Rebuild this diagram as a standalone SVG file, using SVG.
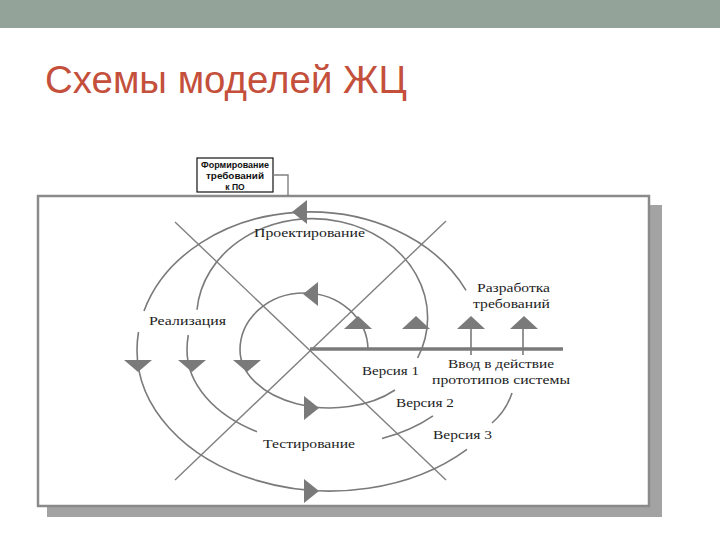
<svg xmlns="http://www.w3.org/2000/svg" width="720" height="540" viewBox="0 0 720 540">
<style>
.arc{fill:none;stroke:#7a7a7a;stroke-width:1.6}
.ax{fill:none;stroke:#808080;stroke-width:1.4}
.ah{fill:#7a7a7a}
.lbl{font-family:"Liberation Serif","DejaVu Serif",serif;font-size:13.5px;fill:#222}
.box{font-family:"Liberation Sans",Arial,sans-serif;font-size:8.5px;font-weight:bold;fill:#111;text-anchor:middle}
</style>
<rect x="0" y="0" width="720" height="540" fill="#ffffff"/>
<rect id="topbar" x="0" y="0" width="720" height="28" fill="#94a39a"/>
<g id="title"><text x="45" y="93" font-family="'Liberation Sans',Arial,sans-serif" font-size="39" fill="#c4503c" textLength="362" lengthAdjust="spacingAndGlyphs">Схемы моделей ЖЦ</text></g>
<g id="frame">
<rect x="47" y="205" width="615" height="312" fill="#a3a3a3"/>
<rect x="38" y="196" width="611" height="310" fill="#ffffff" stroke="#8a8a8a" stroke-width="2.5"/>
</g>
<g id="req-box">
<rect x="197" y="158" width="76" height="34" fill="#ffffff" stroke="#111" stroke-width="1.2"/>
<text class="box" x="235" y="168" textLength="68" lengthAdjust="spacingAndGlyphs">Формирование</text>
<text class="box" x="235" y="179" textLength="58" lengthAdjust="spacingAndGlyphs">требований</text>
<text class="box" x="235" y="190">к ПО</text>
</g>
<g id="connectors">
<path class="ax" d="M273,175 H288 V196" stroke="#333"/>
<line class="ax" x1="175" y1="222" x2="446" y2="480"/>
<line class="ax" x1="446" y1="221" x2="175" y2="480"/>
<line x1="310" y1="349" x2="563" y2="349" stroke="#7a7a7a" stroke-width="3.5"/>
<line class="arc" x1="471" y1="329" x2="471" y2="355"/>
<line class="arc" x1="523" y1="329" x2="523" y2="355"/>
<!-- inner loop -->
<path class="arc" d="M368,350 A64,57 0 0 0 240,350 A90,58 0 0 0 395,390"/>
<!-- middle loop -->
<path class="arc" d="M417.6,358 A115.5,99 0 1 0 197,309.7"/>
<path class="arc" d="M188.3,335 A115.5,99 0 0 0 187,350 A143,95 0 0 0 257,431.7"/>
<path class="arc" d="M382,438.5 A143,95 0 0 0 433,415.9"/>
<!-- outer loop -->
<path class="arc" d="M466,290.3 A173,138 0 0 0 144,311"/>
<path class="arc" d="M138.5,332 A173,138 0 0 0 137,350 A193,141 0 0 0 467,449.3"/>
<path class="arc" d="M512,393 Q506,411 492,423"/>
<!-- arrowheads -->
<polygon class="ah" points="344,329 372,329 358,316"/>
<polygon class="ah" points="402,329 430,329 416,316"/>
<polygon class="ah" points="457,329 485,329 471,316"/>
<polygon class="ah" points="510,329 538,329 524,316"/>
<polygon class="ah" points="318,282 318,306 303,294"/>
<polygon class="ah" points="307,200 307,224 292,212"/>
<polygon class="ah" points="233,360 261,360 247,372"/>
<polygon class="ah" points="178,360 206,360 192,372"/>
<polygon class="ah" points="124,360 152,360 138,372"/>
<polygon class="ah" points="304,396 304,420 319,408"/>
<polygon class="ah" points="304,479 304,503 319,491"/>
</g>
<g id="labels">
<text class="lbl" x="254" y="237" textLength="111" lengthAdjust="spacingAndGlyphs">Проектирование</text>
<text class="lbl" x="149" y="325" textLength="77" lengthAdjust="spacingAndGlyphs">Реализация</text>
<text class="lbl" x="477" y="292" textLength="73" lengthAdjust="spacingAndGlyphs">Разработка</text>
<text class="lbl" x="473" y="308" textLength="77" lengthAdjust="spacingAndGlyphs">требований</text>
<text class="lbl" x="362" y="375" textLength="57" lengthAdjust="spacingAndGlyphs">Версия 1</text>
<text class="lbl" x="448" y="368" textLength="106" lengthAdjust="spacingAndGlyphs">Ввод в действие</text>
<text class="lbl" x="432" y="384" textLength="138" lengthAdjust="spacingAndGlyphs">прототипов системы</text>
<text class="lbl" x="396" y="407" textLength="58" lengthAdjust="spacingAndGlyphs">Версия 2</text>
<text class="lbl" x="433" y="439" textLength="59" lengthAdjust="spacingAndGlyphs">Версия 3</text>
<text class="lbl" x="263" y="448" textLength="92" lengthAdjust="spacingAndGlyphs">Тестирование</text>
</g>
</svg>
